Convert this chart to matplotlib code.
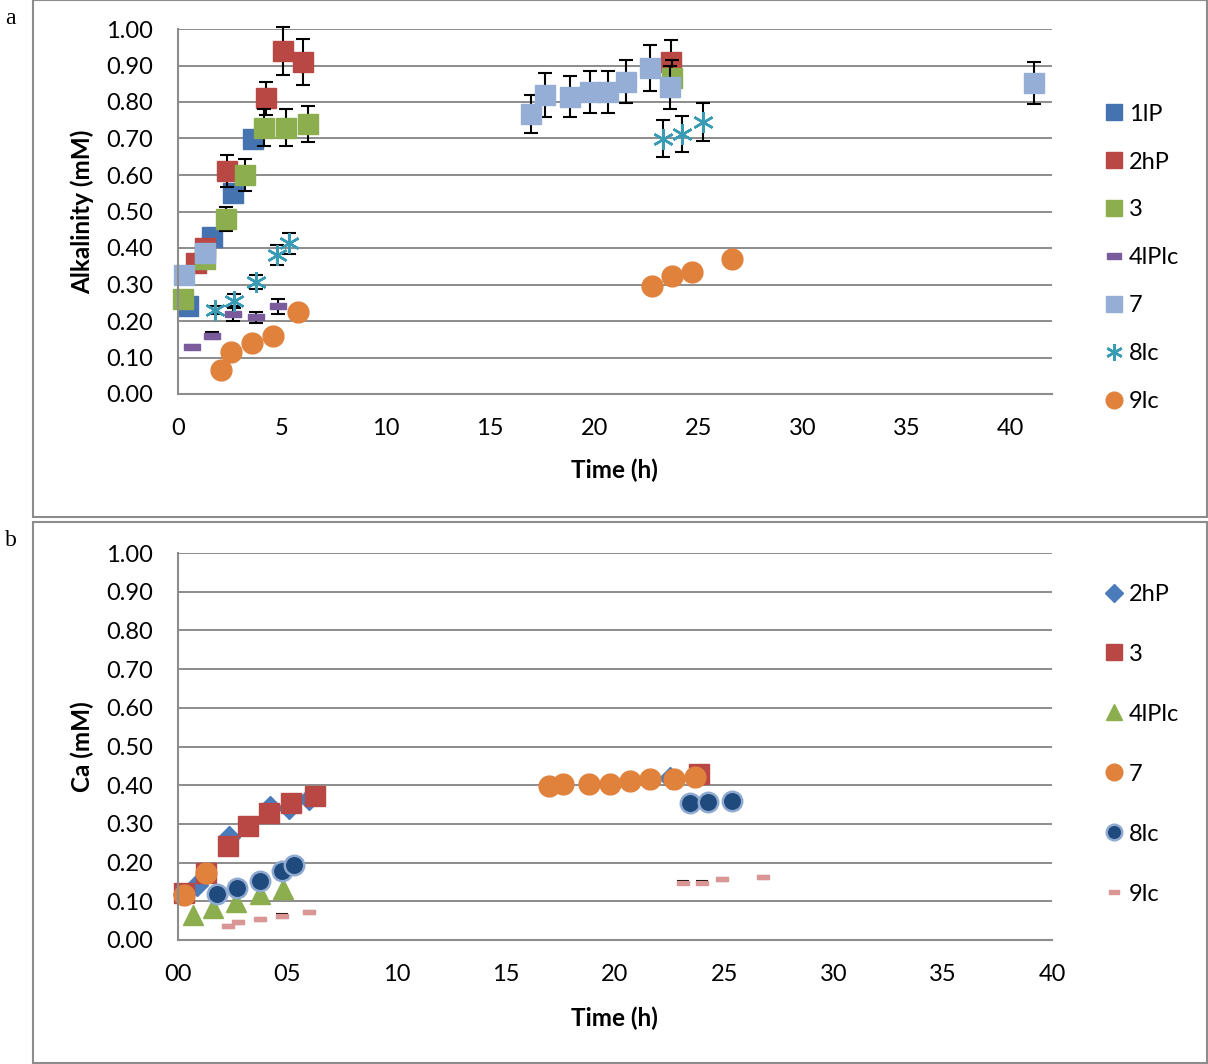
import numpy as np
import matplotlib.pyplot as plt
from matplotlib.patches import Rectangle
from matplotlib.lines import Line2D

plt.rcParams['font.family'] = ['Lato', 'DejaVu Sans']

# ---- panel a: alkalinity (mM) ----
a_labels = ['1lP', '2hP', '3', '4lPlc', '7', '8lc', '9lc']
a_x = [
    [0.48, 1.63, 2.64, 3.60],
    [0.86, 1.30, 2.35, 4.22, 5.04, 6.00, 23.67],
    [0.24, 1.30, 2.30, 3.20, 4.13, 5.18, 6.24, 23.76],
    [0.67, 1.63, 2.64, 3.74, 4.80],
    [0.29, 1.30, 16.95, 17.62, 18.82, 19.78, 20.64, 21.55, 22.66, 23.62, 41.14],
    [1.78, 2.69, 3.74, 4.75, 5.33, 23.33, 24.20, 25.25],
    [2.06, 2.54, 3.55, 4.56, 5.76, 22.80, 23.76, 24.72, 26.60],
]
a_y = [
    [0.24, 0.43, 0.55, 0.70],
    [0.36, 0.40, 0.61, 0.81, 0.94, 0.91, 0.91],
    [0.26, 0.37, 0.48, 0.60, 0.73, 0.73, 0.74, 0.865],
    [0.13, 0.16, 0.22, 0.21, 0.24],
    [0.326, 0.386, 0.767, 0.82, 0.815, 0.827, 0.827, 0.855, 0.893, 0.84, 0.852],
    [0.23, 0.255, 0.307, 0.38, 0.413, 0.70, 0.712, 0.745],
    [0.066, 0.115, 0.14, 0.159, 0.225, 0.296, 0.323, 0.334, 0.37],
]
a_err = [
    [0.01, 0.01, 0.01, 0.01],
    [0.01, 0.01, 0.044, 0.045, 0.065, 0.063, 0.06],
    [0.01, 0.01, 0.033, 0.043, 0.05, 0.05, 0.05, 0.05],
    [0.005, 0.01, 0.02, 0.015, 0.02],
    [0.01, 0.01, 0.053, 0.06, 0.057, 0.058, 0.058, 0.059, 0.063, 0.06, 0.058],
    [0.01, 0.02, 0.02, 0.027, 0.029, 0.05, 0.05, 0.052],
    [0.01, 0.01, 0.01, 0.01, 0.01, 0.01, 0.01, 0.01, 0.015],
]

# ---- panel b: Ca (mM) ----
b_labels = ['2hP', '3', '4lPlc', '7', '8lc', '9lc']
b_x = [
    [0.27, 0.87, 2.34, 4.20, 5.08, 6.00, 22.54],
    [0.27, 1.28, 2.29, 3.20, 4.17, 5.18, 6.28, 23.83],
    [0.69, 1.60, 2.66, 3.76, 4.81],
    [0.27, 1.28, 17.00, 17.64, 18.83, 19.79, 20.70, 21.58, 22.68, 23.64],
    [1.79, 2.70, 3.76, 4.76, 5.31, 23.41, 24.24, 25.34],
    [2.29, 2.75, 3.76, 4.76, 6.00, 23.10, 23.96, 24.90, 26.76],
]
b_y = [
    [0.12, 0.142, 0.266, 0.344, 0.34, 0.364, 0.418],
    [0.121, 0.173, 0.243, 0.295, 0.328, 0.354, 0.372, 0.43],
    [0.065, 0.082, 0.098, 0.12, 0.132],
    [0.116, 0.173, 0.398, 0.403, 0.403, 0.403, 0.411, 0.416, 0.416, 0.421],
    [0.119, 0.134, 0.153, 0.178, 0.193, 0.354, 0.357, 0.36],
    [0.036, 0.046, 0.054, 0.062, 0.072, 0.148, 0.148, 0.157, 0.162],
]
b_err = [0, 0, 0, 0, 0, 0.004]

dash = [(-1, -0.38), (1, -0.38), (1, 0.38), (-1, 0.38), (-1, -0.38)]
a_style = [
    dict(marker='s', color='#4473B0', ms=14),
    dict(marker='s', color='#B94744', ms=14),
    dict(marker='s', color='#8CAE4F', ms=14),
    dict(marker=dash, color='#7A5C9C', ms=12),
    dict(marker='s', color='#94AED5', ms=14),
    dict(marker=(6, 2, 0), color='#3A9BB4', ms=15, mew=1.8),
    dict(marker='o', color='#E0823C', ms=15),
]
b_style = [
    dict(marker='D', color='#4A7BBA', ms=11),
    dict(marker='s', color='#B94744', ms=14),
    dict(marker='^', color='#8CAE4F', ms=15),
    dict(marker='o', color='#E0823C', ms=15),
    dict(marker='o', color='#1F4A7E', ms=14, mec='#8FAAD0', mew=1.8),
    dict(marker=dash, color='#D99694', ms=9),
]

fig = plt.figure(figsize=(12.08, 10.64), dpi=100)

# panel frames
for y0, h in [(1 - 517 / 1064, 517 / 1064), (1 / 1064, 541 / 1064)]:
    fig.patches.append(Rectangle((33 / 1208, y0), 1174 / 1208, h, transform=fig.transFigure,
                                 fill=False, ec='#8C8C8C', lw=1.5))
fig.text(5 / 1208, 1 - 18 / 1064, 'a', family='Liberation Serif', fontsize=17, va='center')
fig.text(5 / 1208, 1 - 541 / 1064, 'b', family='Liberation Serif', fontsize=17, va='center')

ax1 = fig.add_axes([178 / 1208, 1 - 394 / 1064, 874 / 1208, 365 / 1064])
ax2 = fig.add_axes([178 / 1208, 1 - 940 / 1064, 874 / 1208, 387 / 1064])


def setup(ax, xmax, ylabel, xlab_y):
    ax.set_xlim(0, xmax)
    ax.set_ylim(0, 1.0)
    ax.set_yticks(np.arange(0, 1.01, 0.1))
    ax.set_yticklabels(['%.2f' % v for v in np.arange(0, 1.01, 0.1)])
    ax.set_xticks(np.arange(0, 41, 5))
    ax.grid(axis='y', color='#8C8C8C', lw=1.4)
    ax.set_axisbelow(True)
    for s in ['top', 'right']:
        ax.spines[s].set_visible(False)
    for s in ['left', 'bottom']:
        ax.spines[s].set_color('#8C8C8C')
        ax.spines[s].set_linewidth(1.5)
    ax.tick_params(length=0, labelsize=17)
    ax.tick_params(axis='y', pad=18)
    ax.tick_params(axis='x', pad=17)
    ax.set_xlabel('Time (h)', fontsize=17.5, fontweight='bold')
    ax.set_ylabel(ylabel, fontsize=17.5, fontweight='bold')
    ax.yaxis.set_label_coords(-0.096, 0.5)
    ax.xaxis.set_label_coords(0.499, xlab_y)


setup(ax1, 42, 'Alkalinity (mM)', -0.178)
setup(ax2, 40, 'Ca (mM)', -0.173)
ax2.set_xticklabels(['%02d' % v for v in range(0, 41, 5)])

for i, lab in enumerate(a_labels):
    st = a_style[i]
    ax1.errorbar(a_x[i], a_y[i], yerr=a_err[i], fmt='none', ecolor='black',
                 elinewidth=1.5, capsize=5, capthick=1.5, zorder=2 + i * 0.1, clip_on=False)
    ax1.plot(a_x[i], a_y[i], ls='none', marker=st['marker'], color=st['color'],
             ms=st['ms'], mew=st.get('mew', 1), zorder=2.05 + i * 0.1, clip_on=False)
leg_h = [Line2D([], [], ls='none', marker=s['marker'], color=s['color'],
                ms=s['ms'] * 0.8, mew=s.get('mew', 1)) for s in a_style]
ax1.legend(leg_h, a_labels, loc='center left', bbox_to_anchor=(1.045, 0.373), frameon=False,
           fontsize=17, labelspacing=1.14, handlelength=0.9, handletextpad=0.2, borderpad=0)

for i, lab in enumerate(b_labels):
    st = b_style[i]
    if b_err[i]:
        ax2.errorbar(b_x[i], b_y[i], yerr=b_err[i], fmt='none', ecolor='black',
                     elinewidth=1.5, capsize=4, capthick=1.5, zorder=2 + i * 0.1)
    ax2.plot(b_x[i], b_y[i], ls='none', marker=st['marker'], color=st['color'],
             ms=st['ms'], mec=st.get('mec', st['color']), mew=st.get('mew', 1),
             zorder=2.05 + i * 0.1, clip_on=False)
leg_h = [Line2D([], [], ls='none', marker=s['marker'], color=s['color'], ms=s['ms'] * 0.8,
                mec=s.get('mec', s['color']), mew=s.get('mew', 1)) for s in b_style]
ax2.legend(leg_h, b_labels, loc='center left', bbox_to_anchor=(1.045, 0.506), frameon=False,
           fontsize=17, labelspacing=1.65, handlelength=0.9, handletextpad=0.2, borderpad=0)

fig.savefig('out.png', dpi=100)
